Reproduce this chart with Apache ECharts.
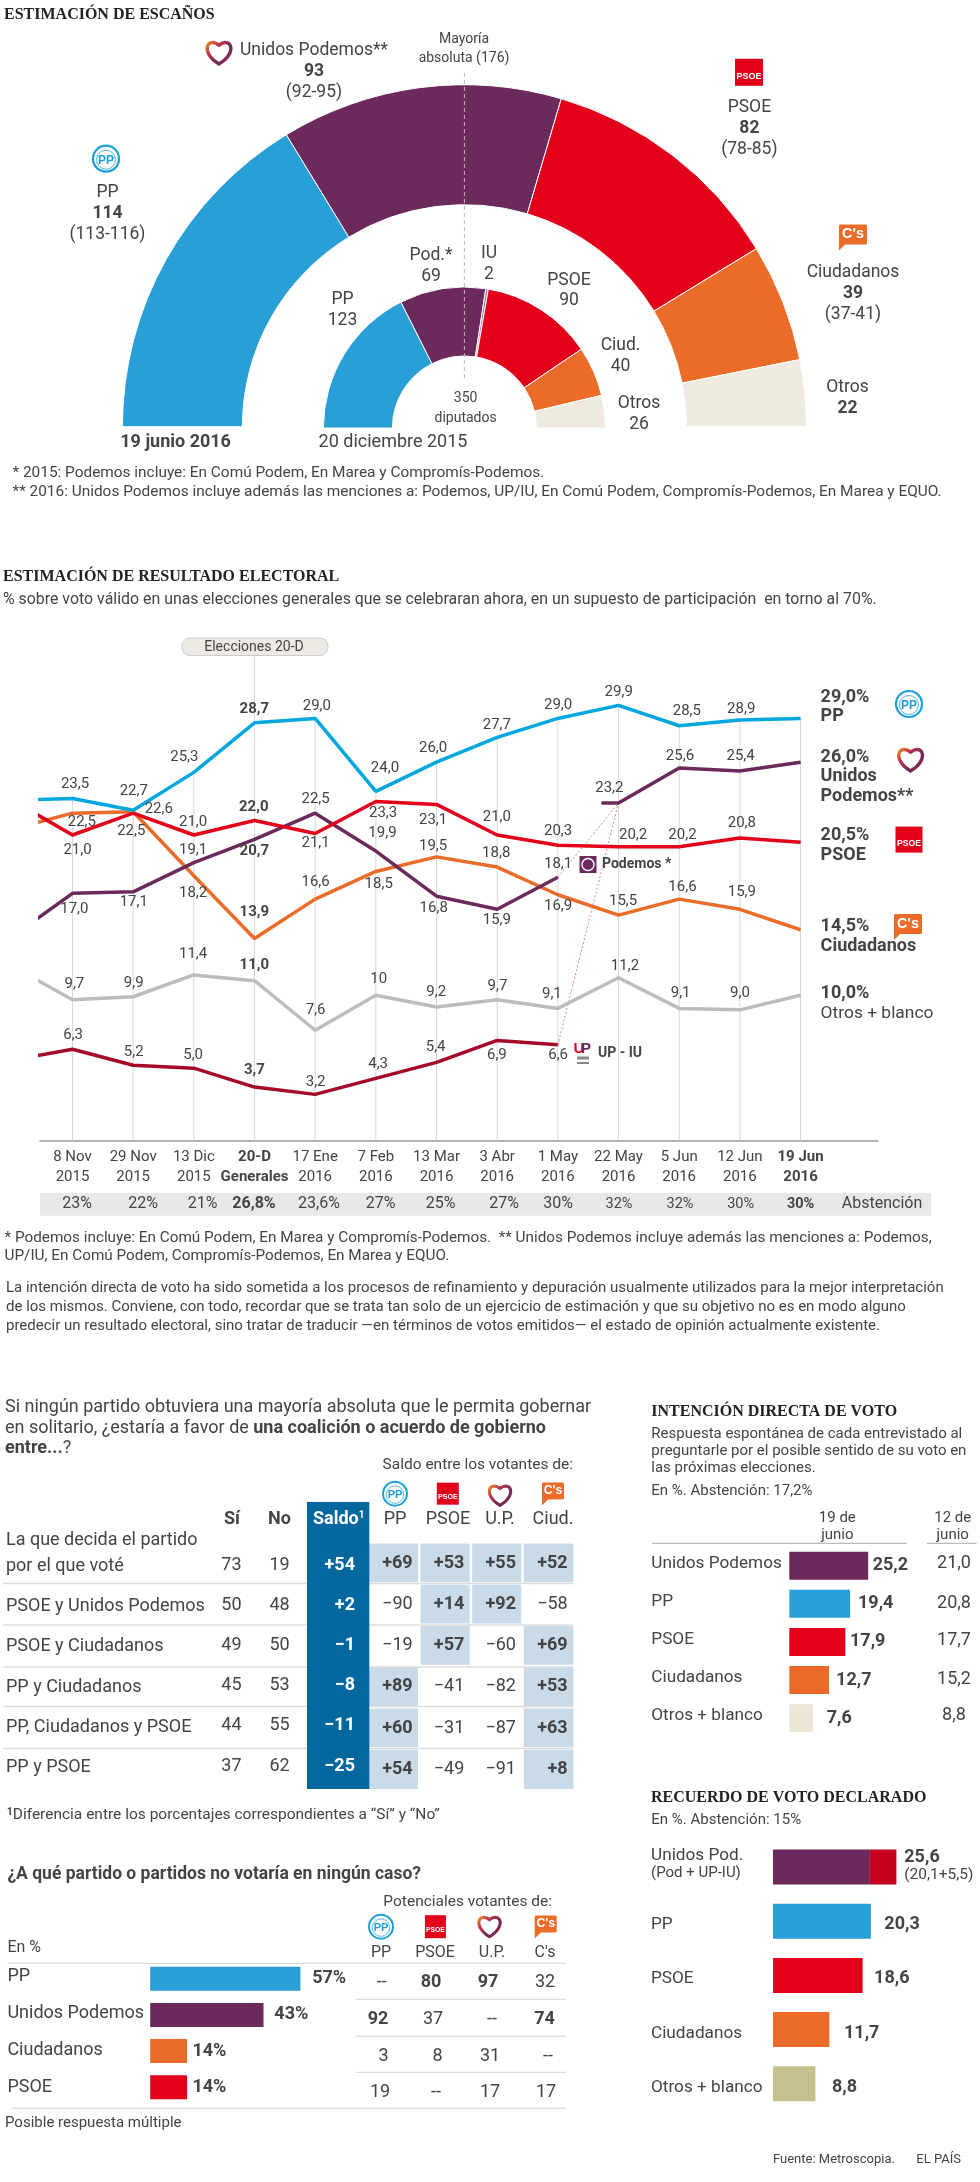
<!DOCTYPE html>
<html><head><meta charset="utf-8">
<style>html,body{margin:0;padding:0;background:#fff}#c{width:980px;height:2182px}</style>
<script src="https://cdn.jsdelivr.net/npm/echarts@6/dist/echarts.min.js"></script>
</head><body><div id="c"></div>
<script>
// ---------- DATA ----------
const seats2016Names = ['PP','Unidos Podemos','PSOE','Ciudadanos','Otros'];
const seats2016 = [114,93,82,39,22];
const seats2015Names = ['PP','Pod.','IU','PSOE','Ciud.','Otros'];
const seats2015 = [123,69,2,90,40,26];

const dateTop = ['8 Nov','29 Nov','13 Dic','20-D','17 Ene','7 Feb','13 Mar','3 Abr','1 May','22 May','5 Jun','12 Jun','19 Jun'];
const dateBottom = ['2015','2015','2015','Generales','2016','2016','2016','2016','2016','2016','2016','2016','2016'];
const abstencion = ['23%','22%','21%','26,8%','23,6%','27%','25%','27%','30%','32%','32%','30%','30%'];

// first value of each list = poll before the visible window (line enters clipped from the left)
const ppVotes = [23.4,23.5,22.7,25.3,28.7,29.0,24.0,26.0,27.7,29.0,29.9,28.5,28.9,29.0];
const psoeVotes = [23.4,21.0,22.5,21.0,22.0,21.1,23.3,23.1,21.0,20.3,20.2,20.2,20.8,20.5];
const csVotes = [21.4,22.5,22.6,18.2,13.9,16.6,18.5,19.5,18.8,16.9,15.5,16.6,15.9,14.5];
const podemosVotes = [14.0,17.0,17.1,19.1,20.7,22.5,19.9,16.8,15.9,18.1];
const unidosVotes = [23.2,25.6,25.4,26.0];
const otrosVotes = [12.0,9.7,9.9,11.4,11.0,7.6,10,9.2,9.7,9.1,11.2,9.1,9.0,10.0];
const iuVotes = [5.55,6.3,5.2,5.0,3.7,3.2,4.3,5.4,6.9,6.6];

const coalitionRows = ['La que decida el partido por el que voté','PSOE y Unidos Podemos','PSOE y Ciudadanos','PP y Ciudadanos','PP, Ciudadanos y PSOE','PP y PSOE'];
const coalitionSi = [73,50,49,45,44,37];
const coalitionNo = [19,48,50,53,55,62];
const coalitionSaldo = [54,2,-1,-8,-11,-25];
const saldoParties = ['PP','PSOE','U.P.','Ciud.'];
const saldoPP = [69,-90,-19,89,60,54];
const saldoPSOE = [53,14,57,-41,-31,-49];
const saldoUP = [55,92,-60,-82,-87,-91];
const saldoCiud = [52,-58,69,53,63,8];

const directNames = ['Unidos Podemos','PP','PSOE','Ciudadanos','Otros + blanco'];
const direct19 = [25.2,19.4,17.9,12.7,7.6];
const direct12 = ['21,0','20,8','17,7','15,2','8,8'];

const rejectNames = ['PP','Unidos Podemos','Ciudadanos','PSOE'];
const rejectValues = [57,43,14,14];
const rejectPP = ['--','92','3','19'];
const rejectPSOE = ['80','37','8','--'];
const rejectUP = ['97','--','31','17'];
const rejectCs = ['32','74','--','17'];

const recallNames = ['Unidos Pod.','PP','PSOE','Ciudadanos','Otros + blanco'];
const recallMain = [20.1,20.3,18.6,11.7,8.8];
const recallExtra = [5.5,0,0,0,0];

// ---------- STYLE ----------
const C = {pp:'#289fd6',up:'#6b2a5b',psoe:'#e2001a',cs:'#eb6b28',otros:'#eeeae0',txt:'#444',
  lpp:'#00a7df',lotros:'#bcbcbc',liu:'#a50a28'};
const SANS='Roboto', SERIF='"Liberation Serif"';
const g=[];
function T(text,x,y,o){o=o||{};
  g.push({type:'text',x:x,y:y,z:o.z||100,silent:true,style:{text:text,fill:o.c||C.txt,
    font:(o.w||'400')+' '+(o.s||18)+'px '+(o.f||SANS),textAlign:o.a||'left',textVerticalAlign:'middle',
    verticalAlign:'middle',align:o.a||'left',rich:o.rich}});}
function L(x1,y1,x2,y2,c,w,dash,z){g.push({type:'line',z:z||99,silent:true,shape:{x1,y1,x2,y2},
  style:{stroke:c,lineWidth:w||1,lineDash:dash}});}
function R(x,y,w,h,c,z,r,stroke){g.push({type:'rect',z:z||99,silent:true,shape:{x,y,width:w,height:h,r:r||0},
  style:{fill:c,stroke:stroke}});}
function logoPP(x,y,s){s=s||1;
  g.push({type:'circle',z:100,silent:true,shape:{cx:x,cy:y,r:13*s},style:{fill:'#fff',stroke:'#1f9fda',lineWidth:2.2*s}});
  g.push({type:'circle',z:100,silent:true,shape:{cx:x,cy:y+1*s,r:9.5*s},style:{fill:'none',stroke:'#1f9fda',lineWidth:0.8*s}});
  T('PP',x,y+1.5*s,{a:'center',w:'700',s:12*s,c:'#1f9fda',f:'"Liberation Sans Narrow","Liberation Sans"'});}
function logoPSOE(x,y,w,h){w=w||28;h=h||27;R(x-w/2,y-h/2,w,h,'#e2001a',100);
  T('PSOE',x,y+h*0.14,{a:'center',w:'700',s:w*0.32,c:'#fff',f:'"Liberation Sans"'});}
function logoCs(x,y,w,h){w=w||28;h=h||20;
  const a=x-w/2,b=y-h/2;
  g.push({type:'polygon',z:100,silent:true,shape:{points:[[a+1,b],[a+w-1,b],[a+w,b+1],[a+w,b+h-1],[a+w-1,b+h],[a+6,b+h],[a,b+h+6],[a,b+1]]},
    style:{fill:'#eb6b28'}});
  T("C's",x,y,{a:'center',w:'700',s:h*0.72,c:'#fff',f:'"Liberation Sans"'});}
function cubicPts(p0,p1,p2,p3,n){const o=[];for(let i=0;i<n;i++){const t=i/n,u=1-t;
  o.push([u*u*u*p0[0]+3*u*u*t*p1[0]+3*u*t*t*p2[0]+t*t*t*p3[0],u*u*u*p0[1]+3*u*u*t*p1[1]+3*u*t*t*p2[1]+t*t*t*p3[1]]);}return o;}
function logoHeart(x,y,s){s=s||1;
  const h=13*s,B=[x,y+h],M=[x,y-h*0.45];
  const pts=cubicPts(B,[x-h*1.5,y+h*0.1],[x-h*0.9,y-h*1.15],M,16).concat(cubicPts(M,[x+h*0.9,y-h*1.15],[x+h*1.5,y+h*0.1],B,16));
  g.push({type:'polygon',z:100,silent:true,shape:{points:pts},style:{fill:'#fff',lineWidth:3.4*s,
    stroke:new echarts.graphic.LinearGradient(0,0,1,1,[{offset:0,color:'#eba21c'},{offset:.3,color:'#c4344c'},{offset:.62,color:'#6b2a5b'},{offset:1,color:'#b0283f'}])}});}

// ---------- SECTION 1 : seats ----------
const S1=17.5;
T('ESTIMACIÓN DE ESCAÑOS',4,14.5,{f:SERIF,w:'700',s:16,c:'#222'});
[['PP','114','(113-116)',107.5,193],['','93','(92-95)',314,51],['PSOE','82','(78-85)',749.4,108],['Ciudadanos','39','(37-41)',853,273],['Otros','22','',847.5,388]].forEach(r=>{
  if(r[0])T(r[0],r[3],r[4],{a:'center',s:S1});
  T(r[1],r[3],r[4]+20.7,{a:'center',w:'700',s:S1});
  if(r[2])T(r[2],r[3],r[4]+41.4,{a:'center',s:S1});
});
T('Unidos Podemos**',240,51,{s:S1});
logoPP(106,158.7);logoHeart(219,51);logoPSOE(749,72.3);logoCs(853,234.5);
T('Mayoría',464,39.3,{a:'center',s:14});T('absoluta (176)',464,58.3,{a:'center',s:14});
[['Pod.*','69',431,256],['IU','2',489,254],['PSOE','90',569,280.7],['PP','123',342.5,300],['Ciud.','40',620.6,346],['Otros','26',639,404]].forEach(r=>{
  T(r[0],r[2],r[3],{a:'center',s:S1});T(r[1],r[2],r[3]+20.3,{a:'center',s:S1});});
T('350',465.6,398.7,{a:'center',s:14});T('diputados',465.6,418,{a:'center',s:14});
T('19 junio 2016',175.6,442,{a:'center',w:'700'});T('20 diciembre 2015',393,442,{a:'center'});
T('* 2015: Podemos incluye: En Comú Podem, En Marea y Compromís-Podemos.',12.5,472.7,{s:15.4});
T('** 2016: Unidos Podemos incluye además las menciones a: Podemos, UP/IU, En Comú Podem, Compromís-Podemos, En Marea y EQUO.',12.5,492,{s:15.4});
L(464.4,73,464.4,381,'#bbb',1,[4,3],100);

// ---------- SECTION 2 : lines ----------
T('ESTIMACIÓN DE RESULTADO ELECTORAL',3,577,{f:SERIF,w:'700',s:16,c:'#222'});
T('% sobre voto válido en unas elecciones generales que se celebraran ahora, en un supuesto de participación  en torno al 70%.',3,599.6,{s:15.9});
R(182,638,146,17.5,'#eceae2',100,8,'#ccc');T('Elecciones 20-D',254,647,{a:'center',s:14});
const R2=[['29,0%','PP',697.7,716.7],['14,5%','Ciudadanos',926.7,946.7],['20,5%','PSOE',835.5,855.8]];
R2.forEach(r=>{T(r[0],820.6,r[2],{w:'700'});T(r[1],820.6,r[3],{w:'700'});});
T('26,0%',820.6,757.6,{w:'700'});T('Unidos',820.6,776,{w:'700'});T('Podemos**',820.6,796.5,{w:'700'});
T('10,0%',820.6,993.8,{w:'700'});T('Otros + blanco',820.6,1013.5,{s:17.4});
logoPP(909,704);logoHeart(910.6,758);logoPSOE(909,839.6,27,26);logoCs(908,924);
R(579.5,856,17,17,C.up,100);g.push({type:'circle',z:100,silent:true,shape:{cx:588,cy:864.5,r:6},style:{fill:C.up,stroke:'#fff',lineWidth:1.4}});
T('Podemos *',602,864,{w:'700',s:14});
T('U',579,1049,{a:'center',w:'700',s:15,c:'#e2001a',f:'"Liberation Sans"'});T('P',586,1049,{a:'center',w:'700',s:15,c:'#6b2a5b',f:'"Liberation Sans"'});
L(577,1058,589,1058,'#888',3,null,100);L(577,1063,589,1063,'#888',2,null,100);
T('UP - IU',598,1053,{w:'700',s:14});
R(40,1193,891,22.7,'#e8e8e8',98);
const abstX=[77,143,202.5,254,319,380.6,440.6,504,558,619,680,740.6,800.6];
abstencion.forEach((t,i)=>{const b=(i==3||i==12);T(t,abstX[i],1204.3,{a:'center',s:(i>=9&&i<=11)||i==12?14.5:16,w:b?'700':'400'});});
T('Abstención',882,1204.3,{a:'center',s:16});
T('* Podemos incluye: En Comú Podem, En Marea y Compromís-Podemos.  ** Unidos Podemos incluye además las menciones a: Podemos,',4.5,1238,{s:15.3});
T('UP/IU, En Comú Podem, Compromís-Podemos, En Marea y EQUO.',4.5,1256,{s:15.3});
['La intención directa de voto ha sido sometida a los procesos de refinamiento y depuración usualmente utilizados para la mejor interpretación',
 'de los mismos. Conviene, con todo, recordar que se trata tan solo de un ejercicio de estimación y que su objetivo no es en modo alguno',
 'predecir un resultado electoral, sino tratar de traducir —en términos de votos emitidos— el estado de opinión actualmente existente.'].forEach((t,i)=>T(t,6,[1288,1307.3,1326][i],{s:15}));

const X0=72.5,XS=60.67,Y0=1141,YS=14.57;
const zx=v=>v/1.6, zy=v=>540+v/2.904;
function lineSeries(name,color,width,xs,vals,centers,textOf){
  return {type:'line',name,xAxisIndex:0,yAxisIndex:0,z:5,clip:true,
    lineStyle:{color,width},itemStyle:{color},symbol:'circle',symbolSize:1,animation:false,
    data:vals.map((v,k)=>{
      const c=centers[k],xv=xs[k];
      if(!c)return {value:[xv,v],label:{show:false}};
      const dx=zx(c[0])-(X0+XS*xv),dy=zy(c[1])-(Y0-YS*v);
      return {value:[xv,v],label:{show:true,position:'inside',offset:[dx,dy],color:C.txt,fontFamily:SANS,
        fontSize:15,fontWeight:xv===3?700:400,
        formatter:textOf?textOf(v):v.toFixed(1).replace('.',',')}};
    })};
}
const idx=(n,start)=>Array.from({length:n},(_,i)=>i+start);
const lineLabelPos={
 pp:[null,[120,708],[214,731],[295,630],[407,492],[507,484],[616,662],[693,605],[795,537],[893,479],[990,441],[1099,496],[1186,492],null],
 psoe:[null,[124,900],[210,845],[309,819],[406,775],[505,882],[613,795],[693,815],[795,804],[893,845],[1013,856],[1092,856],[1187,823],null],
 cs:[null,[131,819],[254,781],[309,1026],[407,1080],[505,993],[606,1000],[693,890],[794,911],[893,1065],[997,1048],[1092,1007],[1187,1024],null],
 pod:[null,[119,1071],[214,1053],[309,900],[407,905],[505,752],[612,852],[694,1068],[795,1105],[893,942]],
 uni:[null,[975,722],[1088,627],[1185,627],null],
 otros:[null,[119,1290],[214,1287],[309,1202],[407,1234],[505,1366],[606,1276],[698,1312],[796,1295],[883,1319],[1000,1237],[1089,1315],[1184,1315],null],
 iu:[null,[117,1437],[214,1487],[309,1495],[407,1541],[505,1574],[605,1521],[697,1472],[795,1495],[893,1495]]
};
const lineX=idx(14,-1);
// Unidos Podemos opens with a short flat stub just before 22 May
const uniX=[8.72,9,10,11,12];
const uniVals=[unidosVotes[0],...unidosVotes];
const series=[
 {type:'pie',center:[464.4,426.7],radius:[222,342],startAngle:180,endAngle:0,animation:false,silent:true,label:{show:false},labelLine:{show:false},
  itemStyle:{borderColor:'#fff',borderWidth:1},
  data:seats2016.map((v,i)=>({name:seats2016Names[i],value:v,itemStyle:{color:[C.pp,C.up,C.psoe,C.cs,C.otros][i]}}))},
 {type:'pie',center:[464.4,428],radius:[72,141],startAngle:180,endAngle:0,animation:false,silent:true,label:{show:false},labelLine:{show:false},
  itemStyle:{borderColor:'#fff',borderWidth:1},
  data:seats2015.map((v,i)=>({name:seats2015Names[i],value:v,itemStyle:{color:[C.pp,C.up,'#8f7f9f',C.psoe,C.cs,C.otros][i]}}))},
 // thin verticals: from axis up to PP line; 20-D reaches up to the "Elecciones 20-D" pill
 {type:'bar',xAxisIndex:0,yAxisIndex:0,z:1,barWidth:1,silent:true,animation:false,itemStyle:{color:'#d8d8d8'},
  data:ppVotes.slice(1).map((v,i)=>[i,i===3?33.4:v])},
 {type:'line',xAxisIndex:0,yAxisIndex:0,z:3,symbol:'none',animation:false,silent:true,lineStyle:{color:'#c98aa0',width:1,type:[2,2]},data:[[8,podemosVotes[9]],[9,unidosVotes[0]]]},
 {type:'line',xAxisIndex:0,yAxisIndex:0,z:3,symbol:'none',animation:false,silent:true,lineStyle:{color:'#c98aa0',width:1,type:[2,2]},data:[[8,iuVotes[9]],[9,unidosVotes[0]]]},
 lineSeries('Otros',C.lotros,3.5,lineX,otrosVotes,lineLabelPos.otros,v=>v===10?'10':v.toFixed(1).replace('.',',')),
 lineSeries('UP-IU',C.liu,3.5,idx(10,-1),iuVotes,lineLabelPos.iu),
 lineSeries('Ciudadanos',C.cs,3.5,lineX,csVotes,lineLabelPos.cs),
 lineSeries('Podemos',C.up,3.5,idx(10,-1),podemosVotes,lineLabelPos.pod),
 lineSeries('PSOE',C.psoe,3.5,lineX,psoeVotes,lineLabelPos.psoe),
 lineSeries('PP',C.lpp,3.5,lineX,ppVotes,lineLabelPos.pp),
 lineSeries('Unidos Podemos',C.up,3.5,uniX,uniVals,lineLabelPos.uni),
];

// ---------- SECTION 3 : coalition table ----------
T('Si ningún partido obtuviera una mayoría absoluta que le permita gobernar',5,1407);
T('en solitario, ¿estaría a favor de {b|una coalición o acuerdo de gobierno}',5,1428.3,{rich:{b:{font:'700 18px '+SANS,fill:C.txt}}});
T('{b|entre...}?',5,1448.3,{rich:{b:{font:'700 18px '+SANS,fill:C.txt}}});
T('Saldo entre los votantes de:',573,1465,{a:'right',s:15.5});
logoPP(395,1493.7,.92);logoPSOE(447.8,1493.7,22,22);logoHeart(500,1493.7,.9);logoCs(553,1491,22,17);
T('Sí',232,1519.7,{a:'center',w:'700'});T('No',279.4,1519.7,{a:'center',w:'700'});
saldoParties.forEach((p,i)=>T(p,[395,448,500,553][i],1519.7,{a:'center'}));
[1583.5,1625,1667,1706.5,1748.5].forEach(y=>L(3,y,573,y,'#dcdcdc',1.5,null,97));
R(307,1502,62.3,287,'#04689f',98);
T('Saldo{s|1}',338.7,1519.7,{a:'center',w:'700',c:'#fff',rich:{s:{font:'700 10px '+SANS,fill:'#fff',verticalAlign:'top'}}});
const rowY=[1565,1605,1645.7,1685.7,1725.7,1766.7];
const sgn=v=>(v>0?'+':'−')+Math.abs(v);
T('La que decida el partido',6,1540.3);T('por el que voté',6,1566.3);
coalitionRows.forEach((r,i)=>{
  if(i>0)T(r,6,[0,1606,1646,1687,1727,1767.7][i]);
  T(String(coalitionSi[i]),241.5,rowY[i],{a:'right'});
  T(String(coalitionNo[i]),289.7,rowY[i],{a:'right'});
  T(sgn(coalitionSaldo[i]),355,rowY[i],{a:'right',w:'700',c:'#fff'});
});
const heatData=[];
[saldoPP,saldoPSOE,saldoUP,saldoCiud].forEach((col,c)=>col.forEach((v,r)=>{
  heatData.push({value:[c,r,v],itemStyle:{color:v>0?'#c9dae8':'#fff'},
    label:{fontWeight:v>0?700:400,formatter:sgn(v)}});
}));
series.push({type:'heatmap',xAxisIndex:1,yAxisIndex:1,animation:false,silent:true,z:2,
  itemStyle:{borderColor:'#fff',borderWidth:2.5},
  label:{show:true,color:C.txt,fontFamily:SANS,fontSize:18,align:'right',offset:[19,0]},data:heatData});
T('{s|1}Diferencia entre los porcentajes correspondientes a “Sí” y “No”',7,1815,{s:15.5,rich:{s:{font:'700 10px '+SANS,fill:C.txt,verticalAlign:'top'}}});

// ---------- SECTION 4 : reject ----------
T('¿A qué partido o partidos no votaría en ningún caso?',7.4,1874.3,{w:'700',s:17.5});
T('Potenciales votantes de:',552,1902,{a:'right',s:15.5});
logoPP(381,1926.7,.92);logoPSOE(435.4,1926.7,21,23);logoHeart(489.5,1925,.9);logoCs(545.7,1924,22,17);
T('En %',7.4,1947.7,{s:16});
['PP','PSOE','U.P.',"C's"].forEach((p,i)=>T(p,[381,435,492,545][i],1952.7,{a:'center',s:16}));
L(7.4,1963.3,566,1963.3,'#dcdcdc',1.2);[1999.3,2036.3,2072.3].forEach(y=>L(356,y,566,y,'#dcdcdc',1.2));L(12,2108.3,566,2108.3,'#dcdcdc',1.2);
rejectNames.forEach((n,i)=>T(n,7.4,[1976.7,2013,2050,2087][i]));
[[rejectPP,[381.8,378,383.6,380]],[rejectPSOE,[431,433,437.6,436]],[rejectUP,[488,492,490,490]],[rejectCs,[545,544.6,548,546]]].forEach(([col,xs])=>{
  col.forEach((t,r)=>T(t,xs[r],[1982.7,2019,2056,2092.7][r],{a:'center',w:['80','97','92','74'].includes(t)?'700':'400'}));
});
T('Posible respuesta múltiple',5,2123,{s:15});

// ---------- SECTION 5 : direct vote ----------
const S5=17.2;
T('INTENCIÓN DIRECTA DE VOTO',651.3,1412,{f:SERIF,w:'700',s:16,c:'#222'});
['Respuesta espontánea de cada entrevistado al','preguntarle por el posible sentido de su voto en','las próximas elecciones.'].forEach((t,i)=>T(t,651.3,[1434,1451,1468][i],{s:15}));
T('En %. Abstención: 17,2%',651.3,1491.7,{s:15});
T('19 de',837.3,1518,{a:'center',s:15});T('junio',837.3,1535,{a:'center',s:15});
T('12 de',952.7,1518,{a:'center',s:15});T('junio',952.7,1535,{a:'center',s:15});
L(652,1543.3,906.7,1543.3,'#aaa',1);L(927,1543.3,976.7,1543.3,'#aaa',1);
directNames.forEach((n,i)=>{T(n,651.3,[1564,1601.7,1640,1678,1715.3][i],{s:S5});T(direct12[i],954,[1563.7,1603.7,1640.7,1679.7,1715.3][i],{a:'center'});});

// ---------- SECTION 6 : recall ----------
T('RECUERDO DE VOTO DECLARADO',651,1798,{f:SERIF,w:'700',s:16,c:'#222'});
T('En %. Abstención: 15%',651.3,1820.7,{s:15});
T('Unidos Pod.',651,1855.3,{s:S5});T('(Pod + UP-IU)',651,1873,{s:15});
recallNames.slice(1).forEach((n,i)=>T(n,651,[1924.7,1978.7,2033.7,2088][i],{s:S5}));
T('(20,1+5,5)',904.3,1875,{s:15.5});
T('Fuente: Metroscopia.',773,2159.7,{s:13});T('EL PAÍS',916.3,2159.7,{s:13});

const fmt=v=>v.toFixed(1).replace('.',',');
const barLabel=(t,dist,extra)=>Object.assign({show:true,position:'right',distance:dist,color:C.txt,fontFamily:SANS,fontWeight:700,fontSize:18,formatter:t},extra||{});
const directGap=[4.5,8,4.7,7,13.7];
series.push({type:'bar',xAxisIndex:2,yAxisIndex:2,barWidth:28,animation:false,silent:true,
  data:direct19.map((v,i)=>({value:v,itemStyle:{color:[C.up,C.pp,C.psoe,C.cs,'#ece6d6'][i]},label:barLabel(fmt(v),directGap[i])}))});
const rejectGap=[11.8,10.8,5.3,5.3];
series.push({type:'bar',xAxisIndex:3,yAxisIndex:3,barWidth:24,animation:false,silent:true,
  data:rejectValues.map((v,i)=>({value:v,itemStyle:{color:[C.pp,C.up,C.cs,C.psoe][i]},label:barLabel(v+'%',rejectGap[i])}))});
const recallGap=[0,13.5,11.4,14.6,16.6];
series.push({type:'bar',stack:'r',xAxisIndex:4,yAxisIndex:4,barWidth:35,animation:false,silent:true,
  data:recallMain.map((v,i)=>({value:v,itemStyle:{color:[C.up,C.pp,C.psoe,C.cs,'#c6c08c'][i]},
    label:i?barLabel(fmt(v),recallGap[i],{offset:[0,3.5]}):{show:false}}))});
series.push({type:'bar',stack:'r',xAxisIndex:4,yAxisIndex:4,barWidth:35,animation:false,silent:true,
  data:recallExtra.map((v,i)=>({value:v,itemStyle:{color:'#c6001e'},
    label:i?{show:false}:barLabel(fmt(recallMain[0]+v),7.9,{offset:[0,-10]})}))});

// ---------- CHART ----------
const hiddenVal=(grid,max)=>({type:'value',gridIndex:grid,min:0,max,show:false});
const hiddenCat=(grid,data)=>({type:'category',gridIndex:grid,data,inverse:true,show:false});
const chart=echarts.init(document.getElementById('c'),null,{renderer:'canvas'});
chart.setOption({backgroundColor:'#fff',animation:false,
 grid:[
  {left:40,top:645.6,width:838,height:495.4,containLabel:false},
  {left:367.8,top:1542.5,width:206.7,height:247.5},
  {left:789.3,top:1546.7,width:93.9,height:190.5},
  {left:150.2,top:1960.6,width:158.1,height:144.8},
  {left:773,top:1839.9,width:144.6,height:271}
 ],
 xAxis:[
  {type:'value',gridIndex:0,min:-0.5357,max:13.277,splitLine:{show:false},
   axisLine:{show:true,lineStyle:{color:'#999',width:1.5}},axisTick:{show:false},
   axisLabel:{show:true,showMinLabel:true,showMaxLabel:true,customValues:dateTop.map((_,i)=>i),margin:6,color:C.txt,fontFamily:SANS,fontSize:15,lineHeight:20,
    formatter:v=>{const i=Math.round(v);const b=i===3||i===12;return b?`{b|${dateTop[i]}}\n{b|${dateBottom[i]}}`:`${dateTop[i]}\n${dateBottom[i]}`;},
    rich:{b:{fontWeight:700,fontFamily:SANS,fontSize:15,lineHeight:20,color:C.txt}}}},
  {type:'category',gridIndex:1,data:saldoParties,show:false},
  hiddenVal(2,30),hiddenVal(3,60),hiddenVal(4,30)
 ],
 yAxis:[
  {type:'value',gridIndex:0,min:0,max:34,show:false},
  hiddenCat(1,coalitionRows),
  hiddenCat(2,directNames),hiddenCat(3,rejectNames),hiddenCat(4,recallNames)
 ],
 graphic:{elements:g},
 series
});
</script></body></html>
